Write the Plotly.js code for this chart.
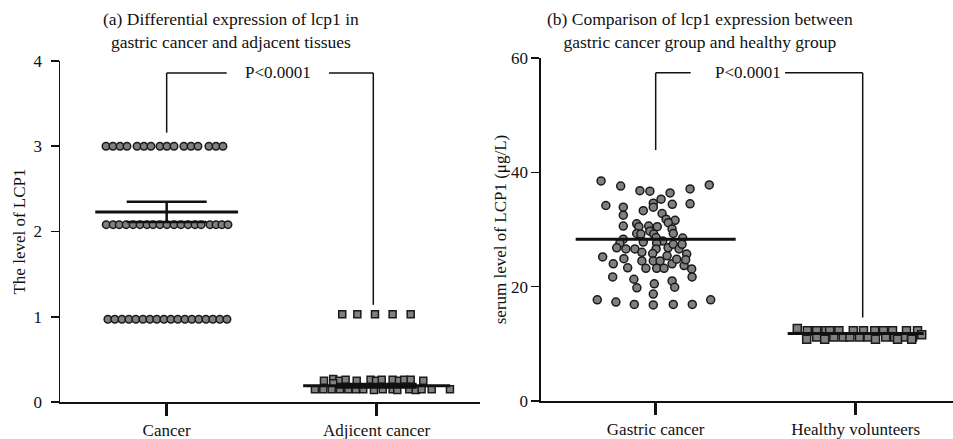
<!DOCTYPE html>
<html><head><meta charset="utf-8">
<script src="https://cdn.plot.ly/plotly-3.0.1.min.js"></script>
<style>html,body{margin:0;padding:0;background:#fff}#chart{width:953px;height:439px}</style>
</head><body><div id="chart"></div>
<script>
// ---------- data ----------
const leftCategories = ['Cancer', 'Adjicent cancer'];
const rightCategories = ['Gastric cancer', 'Healthy volunteers'];

const cancerValues = [
  3,3,3,3,3,3,3,3,3,3,3,3,3,3,3,3,
  2.08,2.08,2.08,2.08,2.08,2.08,2.08,2.08,2.08,2.08,2.08,2.08,2.08,2.08,2.08,2.08,2.08,2.08,2.08,
  0.97,0.97,0.97,0.97,0.97,0.97,0.97,0.97,0.97,0.97,0.97,0.97,0.97,0.97,0.97,0.97,0.97,0.97
];
const cancerJitter = [
  -0.289,-0.256,-0.222,-0.189,-0.141,-0.108,-0.075,-0.032,0.001,0.035,0.082,0.116,0.149,0.201,0.235,0.268,
  -0.288,-0.255,-0.226,-0.193,-0.160,-0.127,-0.094,-0.065,-0.032,0.001,0.035,0.068,0.102,0.135,0.164,0.206,0.235,0.263,0.292,
  -0.280,-0.247,-0.213,-0.180,-0.147,-0.113,-0.080,-0.047,-0.013,0.020,0.053,0.087,0.120,0.153,0.187,0.220,0.253,0.287
];

const adjacentValues = [
  1.03,1.03,1.03,1.03,1.03,
  0.25,0.27,0.25,0.26,0.25,0.26,0.25,0.26,0.26,0.25,0.26,0.26,0.25,0.22,
  0.15,0.15,0.15,0.15,0.15,0.15,0.15,0.14,0.15,0.15,0.14,0.15,0.14,0.15,0.15,0.15
];
const adjacentJitter = [
  -0.164,-0.092,-0.008,0.076,0.162,
  -0.251,-0.207,-0.178,-0.148,-0.095,-0.029,-0.003,0.024,0.076,0.106,0.131,0.162,0.222,-0.207,
  -0.294,-0.254,-0.214,-0.175,-0.135,-0.099,-0.064,-0.013,0.029,0.076,0.098,0.155,0.186,0.214,0.262,0.349
];

const gastricValues = [
  38.5,37.6,36.8,36.7,36.4,37.1,37.8,34.2,33.9,34.6,33.9,35.3,34.4,34.5,32.5,33.3,32.8,31.8,31.6,31.2,
  30.6,31.0,30.5,30.6,30.5,29.7,29.2,30.1,29.3,29.3,29.2,28.3,27.6,26.8,26.6,26.6,27.8,28.6,28.0,27.6,
  26.6,26.8,27.4,26.6,28.5,27.4,26.0,25.8,25.2,24.0,24.9,23.3,24.5,23.2,24.5,24.5,23.2,23.2,25.4,24.0,
  24.8,23.7,25.7,24.7,23.1,21.7,21.7,21.3,19.8,20.5,21.0,19.9,18.7,17.7,17.3,16.9,16.8,16.9,16.9,17.7
];
const gastricJitter = [
  -0.273,-0.175,-0.079,-0.029,0.072,0.172,0.268,-0.249,-0.162,-0.012,-0.012,0.027,0.083,0.172,-0.162,-0.062,0.032,0.052,0.097,0.063,
  -0.162,-0.095,-0.084,-0.035,0.008,-0.029,-0.010,0.082,0.088,-0.095,-0.074,-0.162,-0.179,-0.195,-0.149,-0.104,-0.062,0.002,0.035,0.005,
  0.002,0.062,0.088,0.117,0.135,0.132,-0.069,-0.015,-0.265,-0.212,-0.159,-0.140,-0.069,-0.049,-0.012,0.022,0.005,0.042,0.057,0.082,
  0.105,0.142,0.155,0.150,0.180,0.182,-0.215,-0.109,-0.094,-0.007,0.082,0.095,-0.012,-0.292,-0.199,-0.107,-0.012,0.088,0.183,0.275
];

const healthyValues = [
  12.7,
  12.3,12.3,12.3,12.3,12.3,12.3,12.3,12.3,12.3,12.3,12.3,12.3,
  11.2,11.2,11.2,11.2,11.2,11.2,11.2,11.2,11.2,11.2,
  10.8,10.8,10.8,10.8,10.8,
  11.6
];
const healthyJitter = [
  -0.292,
  -0.242,-0.195,-0.149,-0.130,-0.084,-0.012,0.039,0.095,0.139,0.184,0.254,0.309,
  -0.195,-0.109,-0.062,-0.029,0.019,0.062,0.150,0.195,0.239,0.284,
  -0.245,-0.155,0.099,0.209,0.280,
  0.330
];

const leftMeans = [2.23, 0.19];
const leftSems = [0.12, 0.02];
const rightMeans = [28.3, 11.8];

const leftTicks = [0, 1, 2, 3, 4];
const rightTicks = [0, 20, 40, 60];

// ---------- styles ----------
const FONT = 'Liberation Serif, Times New Roman, serif';
const INK = '#111';
const DOT = {color: '#808080', line: {color: '#1a1a1a', width: 1.5}};

function pts(jit, vals, center, xa, ya, symbol, size) {
  return {
    type: 'scatter', mode: 'markers', xaxis: xa, yaxis: ya,
    x: jit.map(j => center + j), y: vals,
    marker: Object.assign({symbol: symbol, size: size}, DOT),
    hoverinfo: 'y', showlegend: false
  };
}
function meanLine(center, m, hw, xa, ya) {
  return {
    type: 'scatter', mode: 'lines', xaxis: xa, yaxis: ya,
    x: [center - hw, center + hw], y: [m, m],
    line: {color: INK, width: 3}, hoverinfo: 'skip', showlegend: false
  };
}

const traces = [
  pts(cancerJitter, cancerValues, 0, 'x', 'y', 'circle', 7.5),
  pts(adjacentJitter, adjacentValues, 1, 'x', 'y', 'square', 7),
  pts(gastricJitter, gastricValues, 0, 'x2', 'y2', 'circle', 8),
  pts(healthyJitter, healthyValues, 1, 'x2', 'y2', 'square', 8),
  meanLine(0, leftMeans[0], 0.34, 'x', 'y'),
  meanLine(1, leftMeans[1], 0.35, 'x', 'y'),
  meanLine(0, rightMeans[0], 0.40, 'x2', 'y2'),
  meanLine(1, rightMeans[1], 0.34, 'x2', 'y2'),
  {
    type: 'scatter', mode: 'markers', xaxis: 'x', yaxis: 'y',
    x: [0, 1], y: leftMeans, marker: {size: 1, opacity: 0},
    error_y: {type: 'data', array: leftSems, visible: true, width: 40, thickness: 2.5, color: INK},
    hoverinfo: 'skip', showlegend: false
  }
];

// ---------- layout ----------
const axFont = {family: FONT, size: 17, color: INK};
function xAxis(domain, range, cats, anchor) {
  return {
    domain: domain, range: range, anchor: anchor,
    tickmode: 'array', tickvals: [0, 1], ticktext: cats,
    showline: true, linecolor: INK, linewidth: 1.5,
    ticks: 'outside', ticklen: 12, tickwidth: 2.5, tickcolor: INK,
    showgrid: false, zeroline: false, tickfont: axFont, fixedrange: true
  };
}
function yAxis(domain, range, tickv, title, anchor, standoff, tls) {
  return {
    domain: domain, range: range, anchor: anchor,
    tickmode: 'array', tickvals: tickv,
    showline: true, linecolor: INK, linewidth: 1.5,
    ticks: 'outside', ticklen: 8, tickwidth: 1.5, tickcolor: INK,
    ticklabelstandoff: tls,
    showgrid: false, zeroline: false, tickfont: axFont, fixedrange: true,
    title: {text: title, font: axFont, standoff: standoff}
  };
}

const bracket = (xa, ya, x0, y0, x1, y1) => ({type: 'line', xref: xa, yref: ya, x0: x0, y0: y0, x1: x1, y1: y1, line: {color: INK, width: 1.5}});

const layout = {
  width: 953, height: 439,
  margin: {l: 60, r: 0, t: 58, b: 37},
  paper_bgcolor: '#fff', plot_bgcolor: '#fff',
  font: {family: FONT, color: INK},
  xaxis: xAxis([0, 0.4703], [-0.508, 1.492], leftCategories, 'y'),
  yaxis: yAxis([0, 0.9913], [0, 4], leftTicks, 'The level of LCP1', 'x', 3, 5),
  xaxis2: xAxis([0.5386, 1], [-0.5735, 1.4865], rightCategories, 'y2'),
  yaxis2: yAxis([0.0029, 1], [0, 60], rightTicks, 'serum level of LCP1 (μg/L)', 'x2', 0, 0),
  shapes: [
    bracket('x', 'y', 0, 3.86, 0, 3.16),
    bracket('x', 'y', 0, 3.86, 0.286, 3.86),
    bracket('x', 'y', 0.773, 3.86, 0.984, 3.86),
    bracket('x', 'y', 0.984, 3.86, 0.984, 1.14),
    bracket('x2', 'y2', 0, 57.4, 0, 43.9),
    bracket('x2', 'y2', 0, 57.4, 0.175, 57.4),
    bracket('x2', 'y2', 0.647, 57.4, 1.035, 57.4),
    bracket('x2', 'y2', 1.035, 57.4, 1.035, 14.6)
  ],
  annotations: [
    {xref: 'x', yref: 'y', x: 0.53, y: 3.86, text: 'P<0.0001', showarrow: false, font: axFont},
    {xref: 'x2', yref: 'y2', x: 0.46, y: 57.4, text: 'P<0.0001', showarrow: false, font: axFont},
    {xref: 'paper', yref: 'paper', x: 0.1915, y: 1.081, xanchor: 'center', yanchor: 'middle',
     text: '(a) Differential expression of lcp1 in<br>gastric cancer and adjacent tissues', showarrow: false,
     font: {family: FONT, size: 17.5, color: INK}},
    {xref: 'paper', yref: 'paper', x: 0.7167, y: 1.081, xanchor: 'center', yanchor: 'middle',
     text: '(b) Comparison of lcp1 expression between<br>gastric cancer group and healthy group', showarrow: false,
     font: {family: FONT, size: 17.5, color: INK}}
  ],
  showlegend: false
};

Plotly.newPlot('chart', traces, layout, {displayModeBar: false, staticPlot: true});
</script>
</body></html>
